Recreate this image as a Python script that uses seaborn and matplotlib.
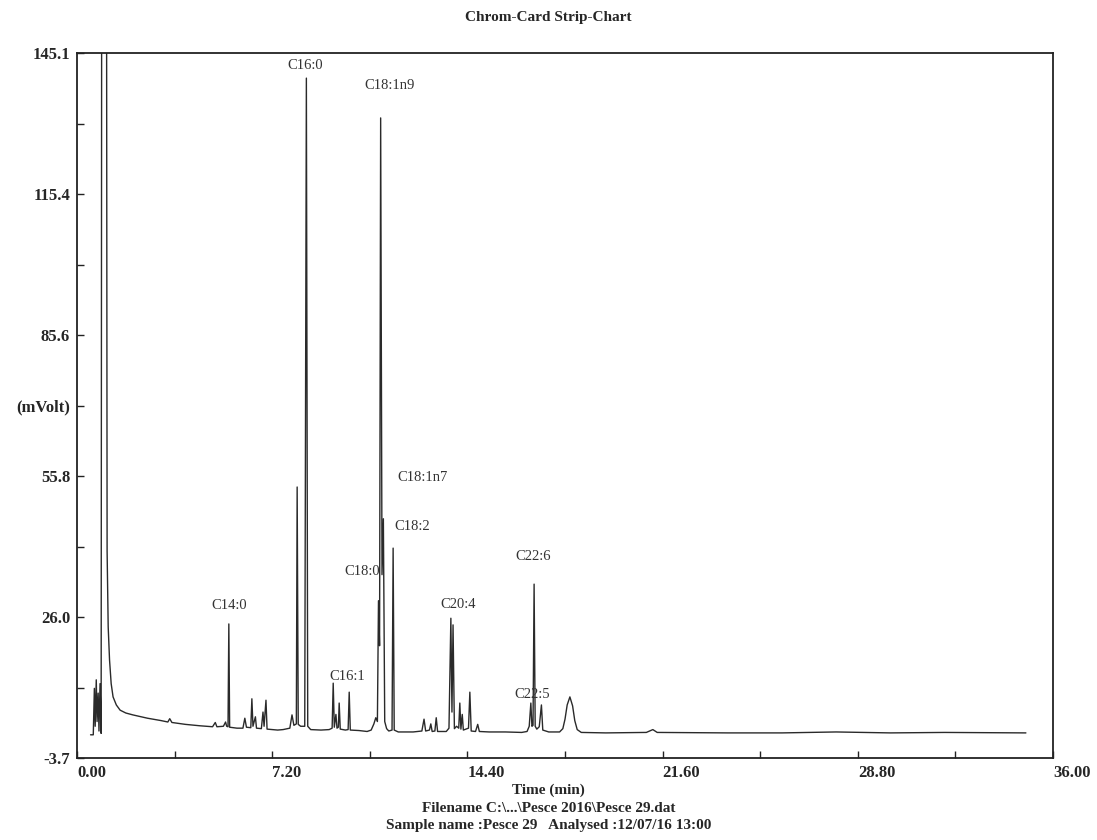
import pandas as pd
import numpy as np
import matplotlib
matplotlib.use("Agg")
import matplotlib.pyplot as plt
import seaborn as sns

# Chromatogram trace (time in min, signal in mVolt)
trace_time = [0.50, 0.60, 0.64, 0.67, 0.71, 0.74, 0.78, 0.81, 0.85, 0.89,
              0.94, 1.00, 1.05, 1.11, 1.15, 1.20, 1.26, 1.33, 1.45, 1.59,
              1.80, 2.06, 2.60, 3.10, 3.35, 3.42, 3.50, 4.00, 4.54, 5.00,
              5.10, 5.16, 5.40, 5.48, 5.52, 5.57, 5.60, 5.63, 5.90, 6.12,
              6.19, 6.25, 6.41, 6.45, 6.49, 6.58, 6.62, 6.80, 6.86, 6.90,
              6.97, 7.01, 7.40, 7.60, 7.85, 7.93, 8.00, 8.09, 8.12, 8.16,
              8.25, 8.40, 8.46, 8.51, 8.62, 9.00, 9.30, 9.41, 9.45, 9.49,
              9.55, 9.59, 9.64, 9.67, 9.71, 9.90, 10.00, 10.04, 10.08, 10.40,
              10.70, 10.85, 10.95, 11.02, 11.08, 11.12, 11.16, 11.20, 11.25, 11.30,
              11.35, 11.42, 11.50, 11.62, 11.66, 11.70, 11.85, 12.40, 12.72, 12.80,
              12.86, 13.00, 13.05, 13.10, 13.20, 13.25, 13.30, 13.62, 13.72, 13.79,
              13.83, 13.87, 13.92, 14.00, 14.08, 14.12, 14.16, 14.21, 14.25, 14.44,
              14.49, 14.54, 14.70, 14.78, 14.84, 15.20, 15.80, 16.40, 16.60, 16.68,
              16.74, 16.78, 16.82, 16.86, 16.90, 16.96, 17.05, 17.13, 17.18, 17.40,
              17.80, 17.92, 18.00, 18.08, 18.18, 18.28, 18.36, 18.45, 18.60, 19.50,
              21.00, 21.24, 21.40, 24.00, 26.00, 28.00, 30.00, 32.00, 35.00]
trace_mv = [1.2, 1.2, 11.0, 3.0, 12.8, 4.0, 10.0, 2.0, 12.0, 1.5,
            400, 180, 400, 40, 24, 17, 12, 9.2, 7.5, 6.4,
            5.8, 5.4, 4.7, 4.2, 3.9, 4.6, 3.8, 3.4, 3.1, 2.9,
            3.8, 2.9, 3.0, 3.9, 3.0, 2.9, 24.6, 2.8, 2.6, 2.6,
            4.7, 2.8, 2.7, 8.8, 3.0, 5.0, 2.6, 2.5, 6.0, 3.0,
            8.5, 2.4, 2.2, 2.3, 2.6, 5.4, 3.2, 3.5, 53.5, 3.4,
            3.0, 3.0, 139.8, 3.0, 2.3, 2.2, 2.3, 2.6, 12.1, 2.8,
            5.5, 2.6, 2.8, 7.9, 2.4, 2.2, 2.3, 10.2, 2.2, 2.1,
            1.9, 2.2, 3.5, 4.8, 4.0, 29.5, 20.0, 131.4, 35.0, 46.8,
            4.0, 2.5, 2.0, 2.2, 40.6, 2.2, 1.8, 1.8, 2.0, 4.5,
            2.0, 2.2, 3.5, 1.9, 2.0, 4.8, 1.9, 1.9, 2.6, 25.8,
            6.0, 24.4, 2.5, 3.0, 2.6, 7.9, 2.4, 5.5, 2.2, 2.6,
            10.2, 2.0, 1.9, 3.4, 1.9, 1.8, 1.8, 1.7, 1.9, 3.0,
            7.9, 3.0, 3.2, 33.0, 3.0, 2.4, 2.9, 7.5, 2.2, 1.8,
            1.8, 2.5, 4.5, 7.5, 9.2, 7.3, 4.2, 2.3, 1.7, 1.6,
            1.7, 2.3, 1.7, 1.6, 1.6, 1.8, 1.6, 1.7, 1.6]

# Peak names and where their labels sit (time, mVolt)
peak_names = ["C14:0", "C16:0", "C18:1n9", "C16:1", "C18:0",
              "C18:1n7", "C18:2", "C20:4", "C22:6", "C22:5"]
label_time = [5.60, 8.41, 11.54, 9.96, 10.51, 12.76, 12.35, 14.05, 16.81, 16.78]
label_mv = [28.4, 142.4, 138.3, 13.6, 35.6, 55.6, 45.1, 28.6, 38.9, 9.8]

# Axis ticks
x_ticks = [0, 3.6, 7.2, 10.8, 14.4, 18.0, 21.6, 25.2, 28.8, 32.4, 36.0]
x_labels = ["0.00", "", "7.20", "", "14.40", "", "21.60", "", "28.80", "", "36.00"]
y_ticks = [-3.7, 11.18, 26.06, 40.94, 55.82, 70.7, 85.58, 100.46, 115.34, 130.22, 145.1]
y_labels = ["-3.7", "", "26.0", "", "55.8", "(mVolt)", "85.6", "", "115.4", "", "145.1"]

df = pd.DataFrame({"time": trace_time, "mv": trace_mv})

sns.set_theme(style="white")
plt.rcParams["font.family"] = ["Liberation Serif", "DejaVu Serif"]

fig = plt.figure(figsize=(10.97, 8.4), dpi=100)
ax = fig.add_axes([0.0702, 0.0976, 0.8897, 0.8393])

sns.lineplot(data=df, x="time", y="mv", sort=False, estimator=None,
             color="#2a2a2a", linewidth=1.0, ax=ax)

for name, t, v in zip(peak_names, label_time, label_mv):
    ax.text(t, v, name, ha="center", va="center", fontsize=10.5, color="#333333")

ax.set_xlim(0, 36)
ax.set_ylim(-3.7, 145.1)
ax.set_xticks(x_ticks)
ax.set_xticklabels(x_labels, ha="left", fontsize=12, fontweight="bold")
ax.set_yticks(y_ticks)
ax.set_yticklabels(y_labels, fontsize=12, fontweight="bold")
ax.tick_params(bottom=True, left=True, direction="in", length=5, width=1,
               color="#222222", pad=5)
ax.set_xlabel("")
ax.set_ylabel("")
for s in ax.spines.values():
    s.set_color("#222222")
    s.set_linewidth(1.3)

fig.text(0.5, 1 - 18 / 840, "Chrom-Card Strip-Chart", ha="center", va="center",
         fontsize=11, fontweight="bold")
fig.text(0.5, 1 - 790 / 840, "Time (min)", ha="center", va="center",
         fontsize=11, fontweight="bold")
fig.text(0.5, 1 - 808 / 840, r"Filename C:\...\Pesce 2016\Pesce 29.dat",
         ha="center", va="center", fontsize=11, fontweight="bold")
fig.text(0.5, 1 - 826 / 840, "Sample name :Pesce 29   Analysed :12/07/16 13:00",
         ha="center", va="center", fontsize=11, fontweight="bold")

fig.savefig("out.png", dpi=100)
